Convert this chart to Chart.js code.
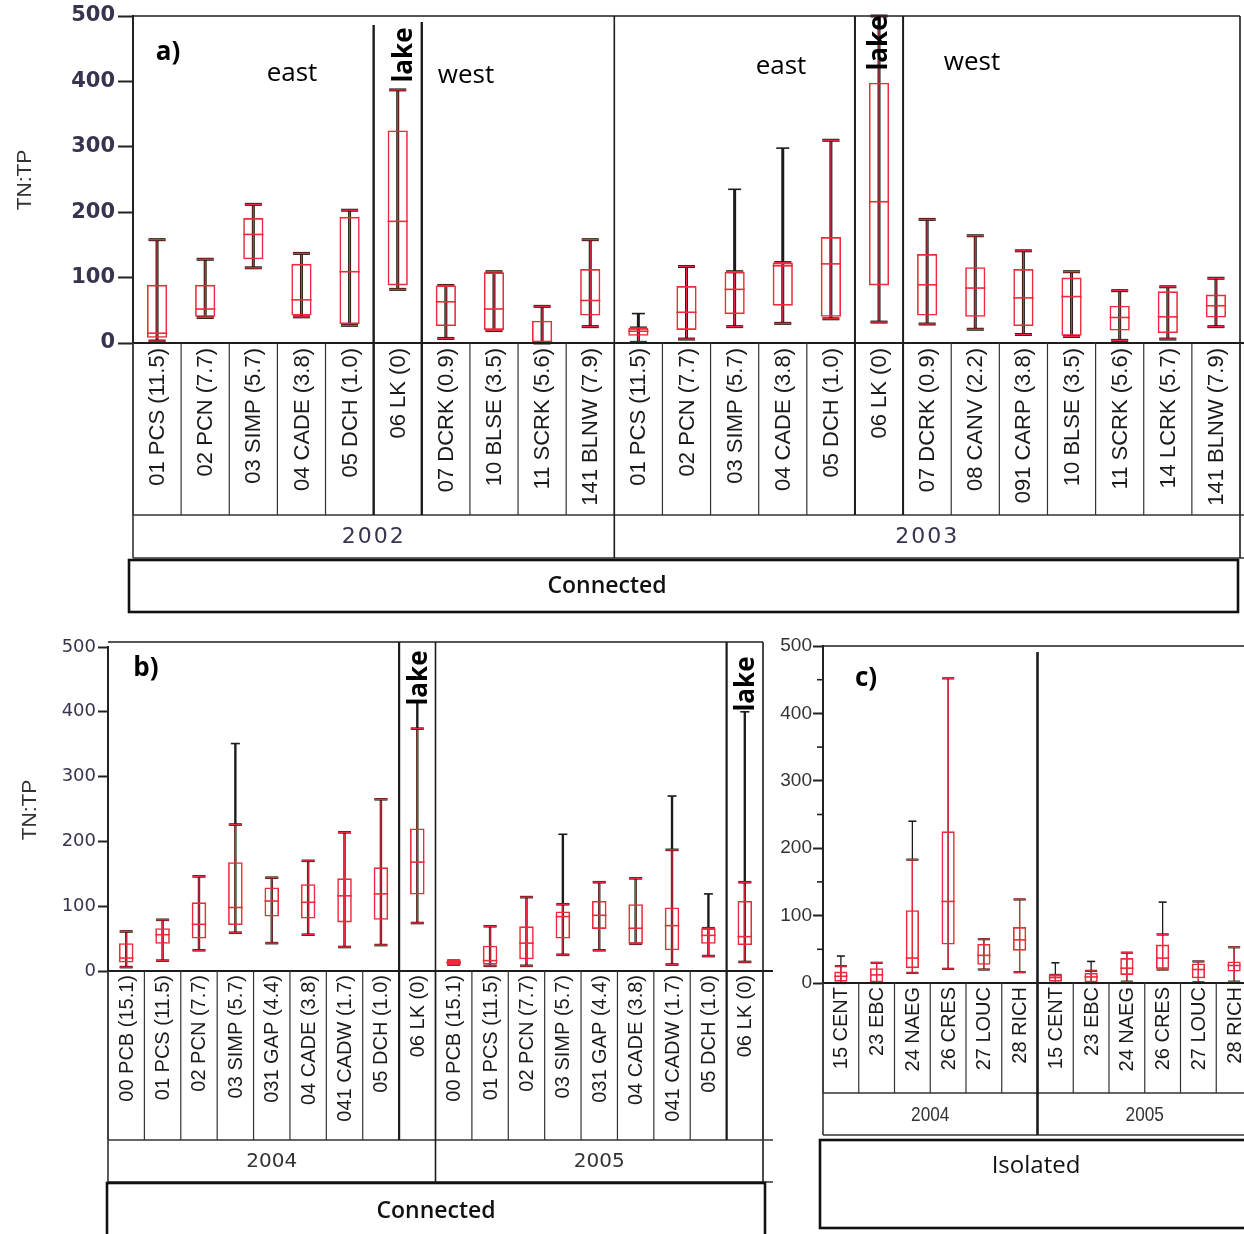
<!DOCTYPE html>
<html>
<head>
<meta charset="utf-8">
<script src="https://cdn.jsdelivr.net/npm/chart.js@4.4.0/dist/chart.umd.min.js"></script>
<style>
  html, body { margin: 0; padding: 0; background: #fff; overflow: hidden; width: 1244px; height: 1234px; }
  canvas { position: absolute; }
</style>
</head>
<body>
<canvas id="ca" width="1244" height="620" style="left:0;top:0"></canvas>
<canvas id="cb" width="780" height="614" style="left:0;top:620px"></canvas>
<canvas id="cc" width="490" height="614" style="left:770px;top:620px"></canvas>
<script>
// TN:TP box plots — a) connected 2002/2003, b) connected 2004/2005, c) isolated 2004/2005

// ---- panel a ----
const aSites2002 = ['01 PCS (11.5)', '02 PCN (7.7)', '03 SIMP (5.7)', '04 CADE (3.8)', '05 DCH (1.0)', '06 LK (0)',
  '07 DCRK (0.9)', '10 BLSE (3.5)', '11 SCRK (5.6)', '141 BLNW (7.9)'];
const aSites2003 = ['01 PCS (11.5)', '02 PCN (7.7)', '03 SIMP (5.7)', '04 CADE (3.8)', '05 DCH (1.0)', '06 LK (0)',
  '07 DCRK (0.9)', '08 CANV (2.2)', '091 CARP (3.8)', '10 BLSE (3.5)', '11 SCRK (5.6)', '14 LCRK (5.7)', '141 BLNW (7.9)'];
const aQ1  = [8, 40, 128, 42, 29, 88, 26, 20, 1, 42,   11, 20, 44, 57, 40, 88, 42, 40, 26, 11, 19, 15, 39];
const aMed = [15, 52, 166, 66, 109, 186, 63, 52, 2, 65, 18, 47, 82, 118, 121, 216, 89, 84, 69, 71, 39, 40, 57];
const aQ3  = [89, 89, 191, 121, 193, 325, 88, 108, 34, 113, 23, 87, 109, 123, 162, 398, 136, 116, 113, 100, 57, 79, 74];
const aLo  = [3, 39, 115, 40, 27, 82, 7, 19, 0, 25,    1, 6, 25, 30, 37, 32, 29, 21, 13, 10, 4, 6, 25];
const aHi  = [158, 128, 212, 137, 203, 387, 88, 109, 56, 158, 23, 117, 109, 123, 310, 500, 189, 164, 141, 109, 80, 86, 99];
const aMax = [158, 128, 212, 137, 203, 387, 88, 109, 56, 158, 45, 117, 235, 298, 310, 500, 189, 164, 141, 109, 80, 86, 99];

// ---- panel b ----
const bSites = ['00 PCB (15.1)', '01 PCS (11.5)', '02 PCN (7.7)', '03 SIMP (5.7)', '031 GAP (4.4)', '04 CADE (3.8)',
  '041 CADW (1.7)', '05 DCH (1.0)', '06 LK (0)'];
const bQ1  = [13, 42, 50, 71, 84, 81, 75, 79, 118,   10, 10, 18, 50, 65, 42, 32, 42, 40];
const bMed = [20, 56, 72, 98, 108, 106, 116, 119, 168, 13, 16, 43, 84, 86, 66, 70, 55, 53];
const bQ3  = [43, 66, 106, 168, 129, 134, 143, 160, 220, 16, 39, 69, 92, 108, 103, 98, 66, 108];
const bLo  = [6, 16, 32, 59, 43, 56, 37, 40, 74,     10, 8, 8, 25, 32, 42, 10, 23, 14];
const bHi  = [61, 79, 146, 226, 144, 170, 214, 265, 374, 16, 69, 114, 103, 137, 143, 187, 66, 137];
const bMax = [61, 79, 146, 351, 144, 170, 214, 265, 415, 16, 69, 114, 211, 137, 143, 270, 119, 400];

// ---- panel c ----
const cSites = ['15 CENT', '23 EBC', '24 NAEG', '26 CRES', '27 LOUC', '28 RICH'];
const cQ1  = [2, 1, 22, 57, 27, 48,    2, 1, 12, 21, 7, 17];
const cMed = [10, 12, 37, 121, 41, 64, 8, 9, 22, 37, 20, 26];
const cQ3  = [17, 22, 108, 225, 58, 83, 12, 15, 37, 57, 29, 32];
const cLo  = [0, 0, 15, 21, 20, 16,    0, 0, 2, 20, 1, 2];
const cHi  = [25, 30, 183, 452, 65, 124, 12, 18, 45, 72, 32, 53];
const cMax = [40, 30, 240, 452, 65, 124, 30, 32, 45, 120, 32, 53];
const cMinorTicks = [50, 150, 250, 350, 450];

const RED = '#ec2b3b';
const INK = '#1c1c1c';
const NAVY = '#36344e';

function line(ctx, x1, y1, x2, y2) {
  ctx.beginPath();
  ctx.moveTo(x1, y1);
  ctx.lineTo(x2, y2);
  ctx.stroke();
}

function decoPlugin(cfg) {
  const edge = (x, k) => x.getPixelForValue(k - 0.5);
  return {
    id: 'deco',
    beforeDatasetsDraw(chart) {
      const { ctx, scales: { x, y } } = chart;
      const half = cfg.cap / 2;
      ctx.save();
      cfg.lo.forEach((lo, i) => {
        const px = x.getPixelForValue(i);
        const yLo = y.getPixelForValue(lo);
        const yHi = y.getPixelForValue(cfg.hi[i]);
        const yMax = y.getPixelForValue(cfg.max[i]);
        ctx.lineCap = 'butt';
        ctx.strokeStyle = INK;
        ctx.lineWidth = cfg.whisk;
        line(ctx, px, yLo, px, yMax);
        if (cfg.max[i] > cfg.hi[i]) {
          ctx.lineWidth = 1.6;
          line(ctx, px - half + 2, yMax, px + half - 2, yMax);
        }
        ctx.strokeStyle = RED;
        ctx.lineWidth = 1.2;
        line(ctx, px, yLo, px, yHi);
        [yLo, yHi].forEach((yy) => {
          ctx.strokeStyle = INK;
          ctx.lineWidth = cfg.capW;
          line(ctx, px - half, yy, px + half, yy);
          ctx.strokeStyle = RED;
          ctx.lineWidth = 1.4;
          line(ctx, px - half, yy, px + half, yy);
        });
      });
      ctx.restore();
    },
    afterDatasetsDraw(chart) {
      const { ctx, scales: { x, y } } = chart;
      const bw = x.width / cfg.labels.length * cfg.boxW;
      ctx.save();
      ctx.strokeStyle = RED;
      ctx.lineWidth = 1.6;
      cfg.med.forEach((m, i) => {
        const px = x.getPixelForValue(i);
        const py = y.getPixelForValue(m);
        line(ctx, px - bw / 2, py, px + bw / 2, py);
      });
      ctx.restore();
    },
    afterDraw(chart) {
      const { ctx, scales: { x, y } } = chart;
      const n = cfg.labels.length;
      ctx.save();
      ctx.translate(-cfg.ox, -cfg.oy);
      const X = (k) => edge(x, k) + cfg.ox;
      const pBot = y.bottom + cfg.oy;
      const L = x.left + cfg.ox, R = x.right + cfg.ox;

      // minor ticks
      if (cfg.minor) {
        ctx.strokeStyle = '#222';
        ctx.lineWidth = 1.6;
        cfg.minor.forEach((v) => {
          const py = y.getPixelForValue(v) + cfg.oy;
          line(ctx, L - 6, py, L, py);
        });
      }

      // frame
      ctx.strokeStyle = INK;
      ctx.lineWidth = 1.6;
      line(ctx, L, cfg.frameTop, cfg.frameRight ? R : R + 20, cfg.frameTop);
      if (cfg.frameRight) line(ctx, R, cfg.frameTop, R, cfg.yearBottom);
      ctx.lineWidth = 2.2;
      line(ctx, L - 1, pBot, R + 10, pBot);

      // label cells
      ctx.lineWidth = 1.2;
      ctx.strokeStyle = '#333';
      for (let k = 0; k <= n; k++) line(ctx, X(k), pBot, X(k), cfg.cellsBottom);
      ctx.lineWidth = 1.6;
      line(ctx, L, cfg.cellsBottom, R + 10, cfg.cellsBottom);
      line(ctx, L, cfg.yearBottom, R + 10, cfg.yearBottom);
      line(ctx, L, pBot, L, cfg.yearBottom);

      // dividers
      ctx.strokeStyle = INK;
      cfg.dividers.forEach((d) => {
        ctx.lineWidth = d.w;
        line(ctx, X(d.k), d.top, X(d.k), d.bottom);
      });

      // site labels, reading upwards
      ctx.fillStyle = '#1a1a1a';
      ctx.font = cfg.labelFont;
      ctx.textAlign = 'right';
      ctx.textBaseline = 'middle';
      cfg.labels.forEach((t, i) => {
        ctx.save();
        ctx.translate(x.getPixelForValue(i) + cfg.ox, pBot + cfg.labelGap);
        ctx.rotate(-Math.PI / 2);
        ctx.fillText(t, 0, 1);
        ctx.restore();
      });

      // year row
      ctx.font = cfg.yearFont;
      ctx.fillStyle = cfg.yearColor;
      ctx.textAlign = 'center';
      cfg.years.forEach((yr) => {
        ctx.save();
        ctx.translate((X(yr.from) + X(yr.to)) / 2, (cfg.cellsBottom + cfg.yearBottom) / 2 + 1);
        ctx.scale(cfg.yearScaleX, 1);
        ctx.letterSpacing = cfg.yearSpacing;
        ctx.fillText(yr.t, 0, 0);
        ctx.restore();
      });

      // group box
      const g = cfg.group;
      ctx.lineWidth = 2.6;
      ctx.strokeStyle = '#111';
      ctx.strokeRect(g.x1, g.y1, g.x2 - g.x1, g.y2 - g.y1);
      ctx.fillStyle = '#111';
      ctx.font = g.font;
      ctx.fillText(g.t, g.tx, g.ty);

      // notes inside the plot
      cfg.notes.forEach((nt) => {
        ctx.save();
        ctx.font = nt.font;
        ctx.fillStyle = '#000';
        ctx.textAlign = 'center';
        ctx.translate(nt.x, nt.y);
        if (nt.rot) ctx.rotate(-Math.PI / 2);
        ctx.fillText(nt.t, 0, 0);
        ctx.restore();
      });

      // axis title
      if (cfg.yTitle) {
        ctx.save();
        ctx.font = '21px "Liberation Sans"';
        ctx.fillStyle = '#333';
        ctx.translate(cfg.yTitle.x, cfg.yTitle.y);
        ctx.rotate(-Math.PI / 2);
        ctx.fillText('TN:TP', 0, 0);
        ctx.restore();
      }
      ctx.restore();
    },
  };
}

function makeChart(cfg) {
  const canvas = document.getElementById(cfg.canvas);
  const W = canvas.width, H = canvas.height;
  const p = cfg.plot;
  return new Chart(canvas, {
    type: 'bar',
    data: {
      labels: cfg.labels,
      datasets: [{
        data: cfg.q1.map((v, i) => [v, cfg.q3[i]]),
        backgroundColor: 'rgba(255,255,255,0)',
        borderColor: RED,
        borderWidth: 1.6,
        borderSkipped: false,
        barPercentage: cfg.boxW,
        categoryPercentage: 1,
      }],
    },
    options: {
      responsive: false,
      animation: false,
      layout: {
        padding: { left: 0, top: p.top - cfg.oy, right: cfg.ox + W - p.right, bottom: cfg.oy + H - p.bottom },
      },
      plugins: { legend: { display: false }, tooltip: { enabled: false } },
      scales: {
        x: { display: false },
        y: {
          min: 0,
          max: 500,
          ticks: { stepSize: 100, color: cfg.tickColor, font: cfg.tickFont, padding: cfg.tickPad },
          grid: { drawOnChartArea: false, tickLength: cfg.tickLen, tickColor: '#222', tickWidth: 2 },
          border: { display: true, color: '#222', width: 2 },
          afterFit: (s) => { s.width = p.left - cfg.ox; },
        },
      },
    },
    plugins: [decoPlugin(cfg)],
  });
}

const EAST_WEST = '26px "Open Sans"';
const LAKE = 'bold 26px "Open Sans"';

makeChart({
  canvas: 'ca', ox: 0, oy: 0,
  labels: aSites2002.concat(aSites2003),
  q1: aQ1, med: aMed, q3: aQ3, lo: aLo, hi: aHi, max: aMax,
  plot: { left: 133, top: 16, right: 1240, bottom: 343 },
  frameTop: 16, frameRight: true,
  cellsBottom: 515, yearBottom: 558,
  boxW: 0.42, cap: 17, capW: 3, whisk: 3,
  tickFont: { family: 'DejaVu Sans', size: 21, weight: 'bold' }, tickColor: NAVY, tickLen: 15, tickPad: 3,
  labelFont: '22px "Liberation Sans"', labelGap: 5,
  yearFont: '22px "DejaVu Sans"', yearColor: NAVY, yearScaleX: 1, yearSpacing: '2px',
  years: [{ t: '2002', from: 0, to: 10 }, { t: '2003', from: 10, to: 23 }],
  dividers: [
    { k: 5, top: 25, bottom: 515, w: 2.4 }, { k: 6, top: 22, bottom: 515, w: 2.4 },
    { k: 10, top: 16, bottom: 558, w: 1.6 },
    { k: 15, top: 16, bottom: 515, w: 2 }, { k: 16, top: 16, bottom: 515, w: 2 },
  ],
  group: { t: 'Connected', x1: 129, x2: 1238, y1: 560, y2: 612, tx: 607, ty: 586, font: '600 23px "Open Sans"' },
  notes: [
    { t: 'a)', x: 168, y: 53, font: 'bold 26px "Open Sans"' },
    { t: 'east', x: 292, y: 74, font: EAST_WEST },
    { t: 'west', x: 466, y: 76, font: EAST_WEST },
    { t: 'lake', x: 405, y: 55, font: LAKE, rot: true },
    { t: 'east', x: 781, y: 67, font: EAST_WEST },
    { t: 'lake', x: 880, y: 43, font: LAKE, rot: true },
    { t: 'west', x: 972, y: 63, font: EAST_WEST },
  ],
  yTitle: { x: 25, y: 180 },
});

makeChart({
  canvas: 'cb', ox: 0, oy: 620,
  labels: bSites.concat(bSites),
  q1: bQ1, med: bMed, q3: bQ3, lo: bLo, hi: bHi, max: bMax,
  plot: { left: 108, top: 647, right: 763, bottom: 971 },
  frameTop: 642, frameRight: true,
  cellsBottom: 1140, yearBottom: 1182,
  boxW: 0.4, cap: 13, capW: 2.6, whisk: 2.4,
  tickFont: { family: 'DejaVu Sans', size: 18 }, tickColor: NAVY, tickLen: 10, tickPad: 2,
  labelFont: '20px "Liberation Sans"', labelGap: 4,
  yearFont: '20px "DejaVu Sans"', yearColor: '#333', yearScaleX: 1, yearSpacing: '0px',
  years: [{ t: '2004', from: 0, to: 9 }, { t: '2005', from: 9, to: 18 }],
  dividers: [
    { k: 8, top: 642, bottom: 1140, w: 2.2 },
    { k: 9, top: 642, bottom: 1182, w: 1.6 },
    { k: 17, top: 642, bottom: 1140, w: 2.2 },
  ],
  group: { t: 'Connected', x1: 107, x2: 765, y1: 1183, y2: 1250, tx: 436, ty: 1211, font: '600 23px "Open Sans"' },
  notes: [
    { t: 'b)', x: 146, y: 669, font: 'bold 26px "Open Sans"' },
    { t: 'lake', x: 420, y: 678, font: LAKE, rot: true },
    { t: 'lake', x: 747, y: 684, font: LAKE, rot: true },
  ],
  yTitle: { x: 30, y: 810 },
});

makeChart({
  canvas: 'cc', ox: 770, oy: 620,
  labels: cSites.concat(cSites),
  q1: cQ1, med: cMed, q3: cQ3, lo: cLo, hi: cHi, max: cMax,
  minor: cMinorTicks,
  plot: { left: 823, top: 646, right: 1252, bottom: 983 },
  frameTop: 646, frameRight: false,
  cellsBottom: 1093, yearBottom: 1135,
  boxW: 0.37, cap: 12, capW: 2.2, whisk: 1.3,
  tickFont: { family: 'Liberation Sans', size: 19 }, tickColor: '#333', tickLen: 10, tickPad: 1,
  labelFont: '20px "Liberation Sans"', labelGap: 4,
  yearFont: '21px "Liberation Sans"', yearColor: '#333', yearScaleX: 0.82, yearSpacing: '0px',
  years: [{ t: '2004', from: 0, to: 6 }, { t: '2005', from: 6, to: 12 }],
  dividers: [{ k: 6, top: 652, bottom: 1135, w: 2.6 }],
  group: { t: 'Isolated', x1: 820, x2: 1262, y1: 1140, y2: 1228, tx: 1036, ty: 1166, font: '24px "Open Sans"' },
  notes: [{ t: 'c)', x: 866, y: 679, font: 'bold 26px "Open Sans"' }],
  yTitle: null,
});
</script>
</body>
</html>
